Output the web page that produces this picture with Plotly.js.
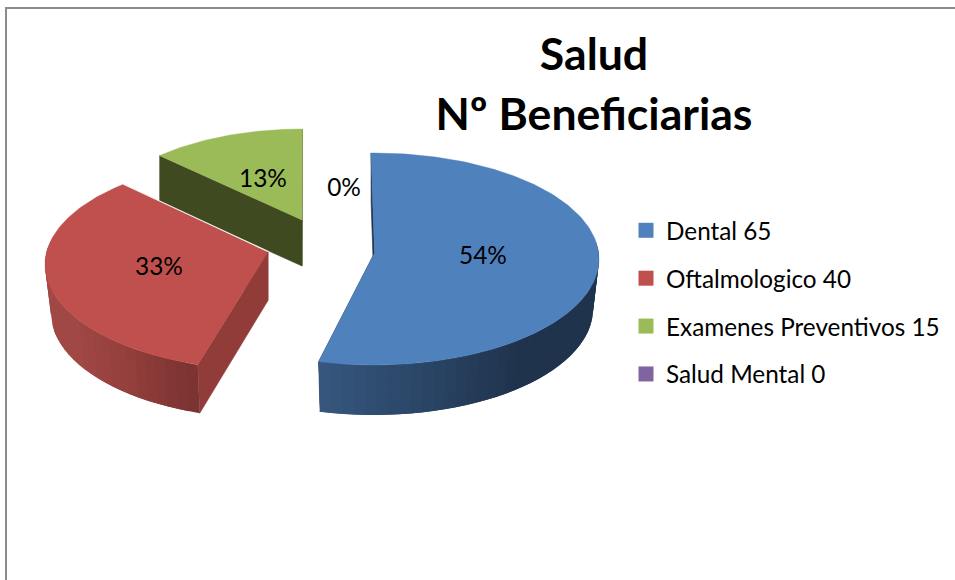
<!DOCTYPE html>
<html>
<head>
<meta charset="utf-8">
<script src="https://cdn.plot.ly/plotly-3.0.1.min.js"></script>
<style>html,body{margin:0;padding:0;background:#fff} svg text{font-variant-ligatures:none}</style>
</head>
<body>
<div id="chart" style="width:955px;height:580px"></div>
<script>
const categories = ["Dental", "Oftalmologico", "Examenes Preventivos", "Salud Mental"];
const values = [65, 40, 15, 0];
const colors = ["#4F81BD", "#C0504D", "#9BBB59", "#8064A2"];

// projected ellipse of each exploded slice (chart pixels), not data
const geometry = [
  {ex:374, ey:259, rx:225, ry:106, ax:374.5, ay:253, depth:50, shrink:6, rot:-0.75, wall:"#1f334d",
   rim:[[0,"#1e324c"],[140,"#1f334d"],[170,"#2b4768"],[195,"#37587f"]]},
  {ex:271.5, ey:264.5, rx:226.5, ry:106, ax:268, ay:252, depth:48.5, shrink:6, rot:4, wall:"#923c3a",
   rim:[[199,"#7a3331"],[205,"#803634"],[220,"#943f3c"],[240,"#a04845"],[320,"#a34a47"]]},
  {ex:302.5, ey:220, rx:202, ry:91, ax:302, ay:220, depth:46, shrink:0, rot:0, wall:"#3f4a20",
   rim:[[0,"#3f4a20"],[360,"#3f4a20"]]},
  null
];
const labelX = [483, 159, 263, 344];
const labelY = [257.5, 268.5, 180.5, 189.5];
const drawOrder = [2, 1, 0];
const FONT = "Lato, Carlito, Calibri, sans-serif";

const total = values.reduce((a, b) => a + b, 0);
const hex = c => [1, 3, 5].map(i => parseInt(c.substr(i, 2), 16));
function rimColor(stops, a) {
  if (a <= stops[0][0]) return stops[0][1];
  for (let i = 1; i < stops.length; i++) {
    if (a <= stops[i][0]) {
      const t = (a - stops[i-1][0]) / (stops[i][0] - stops[i-1][0]);
      const p = hex(stops[i-1][1]), q = hex(stops[i][1]);
      return "rgb(" + p.map((v, k) => Math.round(v + (q[k] - v) * t)).join(",") + ")";
    }
  }
  return stops[stops.length-1][1];
}
const poly = (xs, ys, color, lineWidth) => ({
  type: "scatter", mode: "lines", x: xs.concat(xs[0]), y: ys.concat(ys[0]),
  fill: "toself", fillcolor: color, line: {color: color, width: lineWidth === undefined ? 0.6 : lineWidth},
  hoverinfo: "skip", showlegend: false
});

const starts = [];
values.reduce((acc, v, i) => { starts[i] = acc; return acc + v; }, 0);

const traces = [];
drawOrder.forEach(i => {
  const g = geometry[i];
  const a0 = starts[i] / total * 360 + g.rot;
  const a1 = (starts[i] + values[i]) / total * 360 + g.rot;
  const top = a => { const r = a * Math.PI / 180; return [g.ex + g.rx * Math.sin(r), g.ey - g.ry * Math.cos(r)]; };
  const bot = a => { const r = a * Math.PI / 180; return [g.ex + (g.rx - g.shrink) * Math.sin(r), g.ey + g.depth - g.ry * Math.cos(r)]; };
  // side walls
  [a0, a1].forEach(a => {
    const t = top(a), b = bot(a);
    traces.push(poly([g.ax, t[0], b[0], g.ax], [g.ay, t[1], b[1], g.ay + g.depth], g.wall));
  });
  // curved rim, shaded in steps; each step runs on under the next one so no seam shows
  const step = 3;
  for (let a = a0; a < a1; a += step) {
    const mid = a + step / 2;
    if (Math.cos(mid * Math.PI / 180) > 0.15) continue;
    const xs = [], ys = [], lower = [];
    for (let k = 0; k <= 3; k++) {
      const b = Math.min(a + k * 2, a1);
      const t = top(b), l = bot(b);
      xs.push(t[0]); ys.push(t[1]); lower.unshift(l);
    }
    lower.forEach(l => { xs.push(l[0]); ys.push(l[1]); });
    traces.push(poly(xs, ys, rimColor(g.rim, mid), 0));
  }
  // top face
  const xs = [g.ax], ys = [g.ay];
  for (let a = a0; ; a += 1) {
    const p = top(Math.min(a, a1));
    xs.push(p[0]); ys.push(p[1]);
    if (a >= a1) break;
  }
  traces.push(poly(xs, ys, colors[i], 0.4));
  // pale edge where the red slice overlaps the green wall
  if (i === 1) {
    const e = top(a1);
    traces.push({type: "scatter", mode: "lines", x: [g.ax, e[0]], y: [g.ay - 0.5, e[1] - 0.5],
      line: {color: "#f2f0ec", width: 1.2}, hoverinfo: "skip", showlegend: false});
  }
});

// percentage labels
traces.push({
  type: "scatter", mode: "text", x: labelX, y: labelY,
  text: values.map(v => Math.round(v / total * 100) + "%"),
  textposition: "middle center",
  textfont: {family: FONT, size: 24.4, color: "#000"},
  hoverinfo: "skip", showlegend: false
});

// legend entries
categories.forEach((c, i) => traces.push({
  type: "scatter", mode: "markers", x: [null], y: [null],
  name: c + " " + values[i], legendgroup: c,
  marker: {symbol: "square", size: 15, color: colors[i]},
  hoverinfo: "skip", showlegend: true
}));

const layout = {
  width: 955, height: 580, autosize: false,
  margin: {l: 0, r: 0, t: 0, b: 0, pad: 0},
  paper_bgcolor: "#fff", plot_bgcolor: "#fff",
  xaxis: {range: [0, 955], visible: false, fixedrange: true},
  yaxis: {range: [580, 0], visible: false, fixedrange: true},
  title: {
    text: '<span style="font-size:44.6px">Salud<br>Nº Beneficiarias</span>',
    font: {family: FONT, size: 46, color: "#000", weight: 700},
    x: 594 / 955, xanchor: "center", xref: "paper",
    y: 1 - 70 / 580, yanchor: "top", yref: "container"
  },
  legend: {
    x: 626 / 955, y: 1 - 208 / 580, xanchor: "left", yanchor: "top",
    font: {family: FONT, size: 24.3, color: "#000"},
    tracegroupgap: 13.3, bgcolor: "rgba(0,0,0,0)", itemclick: false, itemdoubleclick: false
  },
  shapes: [{
    type: "path", path: "M 960 8 L 6 8 L 6 585", xref: "x", yref: "y",
    line: {color: "#8c8c8c", width: 2}
  }],
  font: {family: FONT}
};
Plotly.newPlot("chart", traces, layout, {displayModeBar: false});
</script>
</body>
</html>
